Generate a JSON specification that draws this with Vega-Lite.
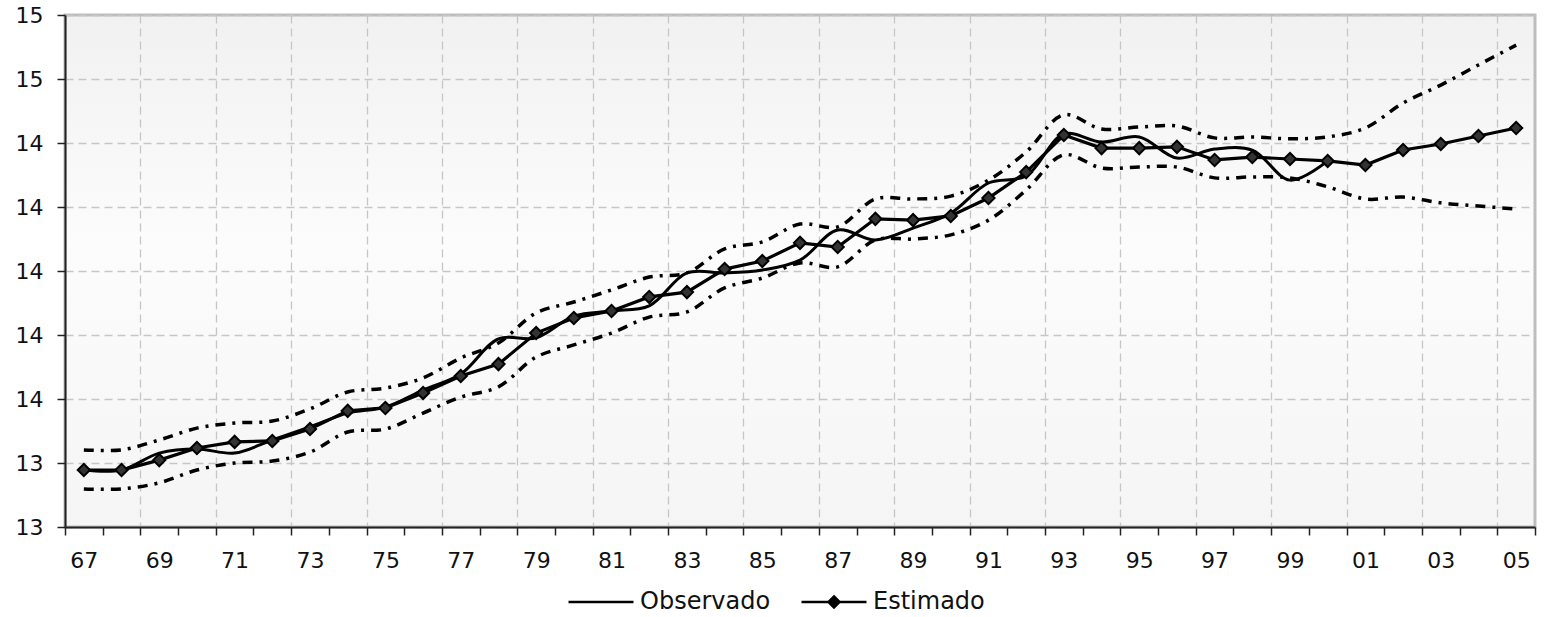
{
  "$schema": "https://vega.github.io/schema/vega-lite/v6.json",
  "width": 1470,
  "height": 512,
  "autosize": {"type": "none"},
  "padding": {"left": 65, "top": 15, "right": 16, "bottom": 90},
  "background": "white",
  "config": {
    "view": {
      "stroke": "#bdbdbd",
      "strokeWidth": 3,
      "fill": {"gradient": "linear", "x1": 0, "y1": 0, "x2": 0, "y2": 1,
        "stops": [{"offset": 0, "color": "#f1f1f1"}, {"offset": 0.45, "color": "#fcfcfc"}, {"offset": 1, "color": "#f5f5f5"}]}
    },
    "font": "DejaVu Sans"
  },
  "data": {
    "values": [
      {"year": 1967, "Observado": 13.378, "Estimado": 13.378, "Superior": 13.441, "Inferior": 13.319},
      {"year": 1968, "Observado": 13.378, "Estimado": 13.378, "Superior": 13.441, "Inferior": 13.319},
      {"year": 1969, "Observado": 13.431, "Estimado": 13.409, "Superior": 13.472, "Inferior": 13.338},
      {"year": 1970, "Observado": 13.444, "Estimado": 13.447, "Superior": 13.509, "Inferior": 13.378},
      {"year": 1971, "Observado": 13.431, "Estimado": 13.466, "Superior": 13.525, "Inferior": 13.400},
      {"year": 1972, "Observado": 13.472, "Estimado": 13.469, "Superior": 13.531, "Inferior": 13.406},
      {"year": 1973, "Observado": 13.513, "Estimado": 13.506, "Superior": 13.569, "Inferior": 13.434},
      {"year": 1974, "Observado": 13.556, "Estimado": 13.563, "Superior": 13.622, "Inferior": 13.497},
      {"year": 1975, "Observado": 13.575, "Estimado": 13.572, "Superior": 13.634, "Inferior": 13.506},
      {"year": 1976, "Observado": 13.628, "Estimado": 13.619, "Superior": 13.666, "Inferior": 13.556},
      {"year": 1977, "Observado": 13.678, "Estimado": 13.672, "Superior": 13.728, "Inferior": 13.606},
      {"year": 1978, "Observado": 13.788, "Estimado": 13.709, "Superior": 13.775, "Inferior": 13.638},
      {"year": 1979, "Observado": 13.791, "Estimado": 13.806, "Superior": 13.869, "Inferior": 13.731},
      {"year": 1980, "Observado": 13.859, "Estimado": 13.853, "Superior": 13.903, "Inferior": 13.769},
      {"year": 1981, "Observado": 13.875, "Estimado": 13.875, "Superior": 13.941, "Inferior": 13.806},
      {"year": 1982, "Observado": 13.891, "Estimado": 13.919, "Superior": 13.981, "Inferior": 13.856},
      {"year": 1983, "Observado": 13.994, "Estimado": 13.934, "Superior": 13.994, "Inferior": 13.872},
      {"year": 1984, "Observado": 13.994, "Estimado": 14.006, "Superior": 14.069, "Inferior": 13.947},
      {"year": 1985, "Observado": 14.003, "Estimado": 14.031, "Superior": 14.091, "Inferior": 13.978},
      {"year": 1986, "Observado": 14.034, "Estimado": 14.088, "Superior": 14.147, "Inferior": 14.025},
      {"year": 1987, "Observado": 14.128, "Estimado": 14.075, "Superior": 14.138, "Inferior": 14.013},
      {"year": 1988, "Observado": 14.097, "Estimado": 14.163, "Superior": 14.225, "Inferior": 14.097},
      {"year": 1989, "Observado": 14.134, "Estimado": 14.159, "Superior": 14.225, "Inferior": 14.100},
      {"year": 1990, "Observado": 14.181, "Estimado": 14.172, "Superior": 14.234, "Inferior": 14.113},
      {"year": 1991, "Observado": 14.275, "Estimado": 14.228, "Superior": 14.284, "Inferior": 14.159},
      {"year": 1992, "Observado": 14.297, "Estimado": 14.309, "Superior": 14.372, "Inferior": 14.253},
      {"year": 1993, "Observado": 14.428, "Estimado": 14.425, "Superior": 14.488, "Inferior": 14.363},
      {"year": 1994, "Observado": 14.403, "Estimado": 14.384, "Superior": 14.444, "Inferior": 14.322},
      {"year": 1995, "Observado": 14.419, "Estimado": 14.384, "Superior": 14.450, "Inferior": 14.325},
      {"year": 1996, "Observado": 14.353, "Estimado": 14.388, "Superior": 14.453, "Inferior": 14.325},
      {"year": 1997, "Observado": 14.381, "Estimado": 14.347, "Superior": 14.416, "Inferior": 14.291},
      {"year": 1998, "Observado": 14.378, "Estimado": 14.356, "Superior": 14.419, "Inferior": 14.294},
      {"year": 1999, "Observado": 14.284, "Estimado": 14.350, "Superior": 14.413, "Inferior": 14.291},
      {"year": 2000, "Observado": 14.344, "Estimado": 14.344, "Superior": 14.419, "Inferior": 14.263},
      {"year": 2001, "Observado": null, "Estimado": 14.331, "Superior": 14.447, "Inferior": 14.225},
      {"year": 2002, "Observado": null, "Estimado": 14.378, "Superior": 14.525, "Inferior": 14.231},
      {"year": 2003, "Observado": null, "Estimado": 14.397, "Superior": 14.581, "Inferior": 14.213},
      {"year": 2004, "Observado": null, "Estimado": 14.422, "Superior": 14.644, "Inferior": 14.203},
      {"year": 2005, "Observado": null, "Estimado": 14.447, "Superior": 14.706, "Inferior": 14.194}
    ]
  },
  "encoding": {
    "x": {
      "field": "year",
      "type": "quantitative",
      "scale": {"domain": [1966.5, 2005.5], "nice": false, "zero": false},
      "axis": {
        "title": null,
        "values": [1966.5, 1967.5, 1968.5, 1969.5, 1970.5, 1971.5, 1972.5, 1973.5, 1974.5, 1975.5, 1976.5, 1977.5, 1978.5, 1979.5, 1980.5, 1981.5, 1982.5, 1983.5, 1984.5, 1985.5, 1986.5, 1987.5, 1988.5, 1989.5, 1990.5, 1991.5, 1992.5, 1993.5, 1994.5, 1995.5, 1996.5, 1997.5, 1998.5, 1999.5, 2000.5, 2001.5, 2002.5, 2003.5, 2004.5, 2005.5,
                   1967, 1969, 1971, 1973, 1975, 1977, 1979, 1981, 1983, 1985, 1987, 1989, 1991, 1993, 1995, 1997, 1999, 2001, 2003, 2005],
        "labelExpr": "datum.value % 1 == 0 ? slice('0' + (datum.value % 100), -2) : ''",
        "labelOverlap": false,
        "labelFlush": false,
        "labelFontSize": 22,
        "labelColor": "#111",
        "labelPadding": 15,
        "tickSize": 8,
        "tickColor": "#222",
        "tickWidth": 1.5,
        "tickOpacity": {"condition": {"test": "datum.value % 1 != 0", "value": 1}, "value": 0},
        "domainColor": "#222",
        "domainWidth": 2,
        "grid": true,
        "gridColor": "#c6c6c6",
        "gridDash": [8, 5],
        "gridWidth": 1.3,
        "gridOpacity": {"condition": {"test": "datum.value % 2 == 0.5 && datum.value > 1967 && datum.value < 2005", "value": 1}, "value": 0}
      }
    }
  },
  "layer": [
    {
      "transform": [{"fold": ["Superior", "Inferior"], "as": ["banda", "valor"]}],
      "mark": {"type": "line", "interpolate": "catmull-rom", "strokeWidth": 3.5, "strokeDash": [10, 7, 3, 7], "color": "black"},
      "encoding": {
        "y": {
          "field": "valor",
          "type": "quantitative",
          "scale": {"domain": [13.2, 14.8], "nice": false, "zero": false},
          "axis": {
            "title": null,
            "values": [13.2, 13.4, 13.6, 13.8, 14.0, 14.2, 14.4, 14.6, 14.8],
            "format": ".0f",
            "labelFontSize": 22,
            "labelColor": "#111",
            "labelPadding": 14,
            "tickSize": 8,
            "tickColor": "#222",
            "tickWidth": 1.5,
            "domainColor": "#222",
            "domainWidth": 2,
            "grid": true,
            "gridColor": "#c6c6c6",
            "gridDash": [8, 5],
            "gridWidth": 1.3
          }
        },
        "detail": {"field": "banda"}
      }
    },
    {
      "mark": {"type": "line", "interpolate": "catmull-rom", "strokeWidth": 3},
      "encoding": {
        "y": {"field": "Observado", "type": "quantitative", "title": null},
        "color": {
          "datum": "Observado",
          "scale": {"domain": ["Observado", "Estimado"], "range": ["black", "black"]},
          "legend": {
            "title": null,
            "orient": "none",
            "direction": "horizontal",
            "legendX": 502,
            "legendY": 553,
            "padding": 0,
            "symbolType": "stroke",
            "symbolSize": 4225,
            "symbolStrokeWidth": 2.5,
            "symbolStrokeColor": "black",
            "labelFontSize": 24,
            "labelColor": "#111",
            "labelOffset": 5,
            "columnPadding": 25,
            "encode": {
              "symbols": {
                "update": {
                  "shape": {"signal": "datum.value == 'Estimado' ? 'M-1,0L1,0M0,-0.17L0.17,0L0,0.17L-0.17,0Z' : 'stroke'"},
                  "fill": {"value": "black"},
                  "stroke": {"value": "black"},
                  "strokeWidth": {"value": 2.5}
                }
              }
            }
          }
        }
      }
    },
    {
      "mark": {"type": "line", "strokeWidth": 3.2},
      "encoding": {
        "y": {"field": "Estimado", "type": "quantitative", "title": null},
        "color": {"datum": "Estimado"}
      }
    },
    {
      "mark": {"type": "point", "shape": "diamond", "filled": true, "size": 150, "fill": "#333", "stroke": "black", "strokeWidth": 2, "opacity": 1},
      "encoding": {
        "y": {"field": "Estimado", "type": "quantitative", "title": null}
      }
    }
  ],
  "resolve": {"scale": {"color": "shared"}}
}
